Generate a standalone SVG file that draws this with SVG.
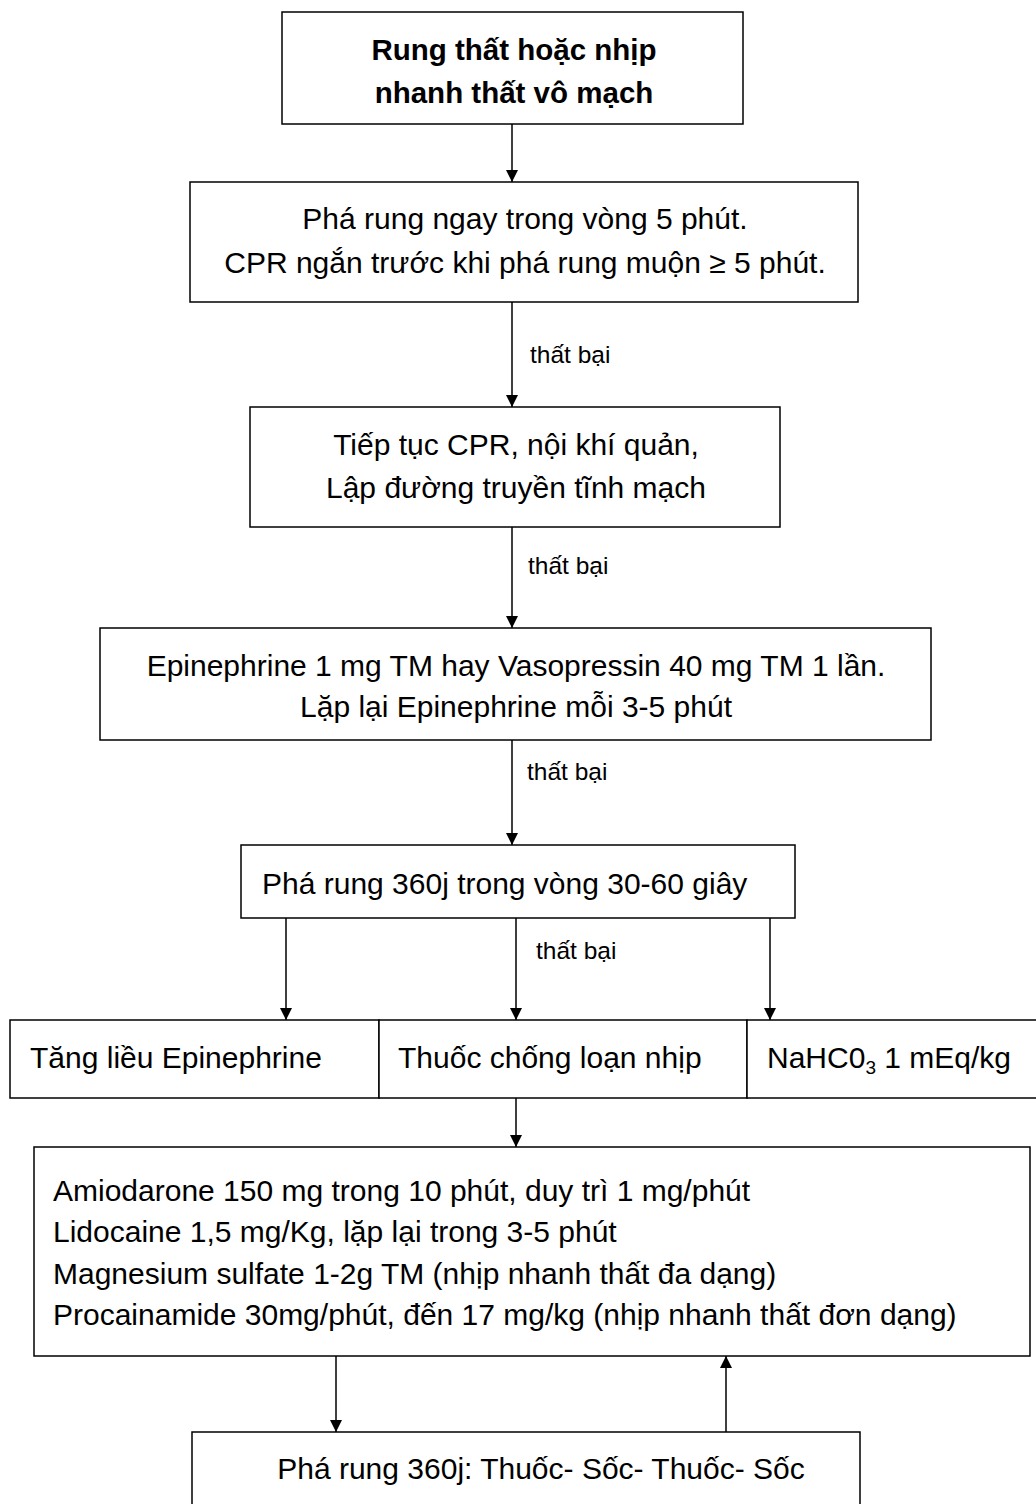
<svg xmlns="http://www.w3.org/2000/svg" width="1036" height="1504" viewBox="0 0 1036 1504">
<defs>
<marker id="ah" viewBox="0 0 10 10" refX="10" refY="5" markerWidth="12" markerHeight="14" markerUnits="userSpaceOnUse" orient="auto">
<path d="M0,0 L10,5 L0,10 z" fill="#000"/>
</marker>
<style>
rect{fill:#fff;stroke:#000;stroke-width:1.5}
text{font-family:"Liberation Sans",Arial,sans-serif;font-size:30px;fill:#000}
.b{font-weight:bold;font-size:29.5px}
.m{text-anchor:middle}
.l{font-size:24.5px}
.c line{stroke:#000;stroke-width:1.5;marker-end:url(#ah)}
</style>
</defs>
<rect width="1036" height="1504" style="fill:#fff;stroke:none"/>
<g id="n1"><rect x="282" y="12" width="461" height="112"/>
<text class="b m" x="514" y="60">Rung thất hoặc nhịp</text>
<text class="b m" x="514" y="103">nhanh thất vô mạch</text></g>
<g id="n2"><rect x="190" y="182" width="668" height="120"/>
<text class="m" x="525" y="229">Phá rung ngay trong vòng 5 phút.</text>
<text class="m" x="525" y="273">CPR ngắn trước khi phá rung muộn ≥ 5 phút.</text></g>
<g id="n3"><rect x="250" y="407" width="530" height="120"/>
<text class="m" x="516" y="455">Tiếp tục CPR, nội khí quản,</text>
<text class="m" x="516" y="498">Lập đường truyền tĩnh mạch</text></g>
<g id="n4"><rect x="100" y="628" width="831" height="112"/>
<text class="m" x="516" y="676">Epinephrine 1 mg TM hay Vasopressin 40 mg TM 1 lần.</text>
<text class="m" x="516" y="717">Lặp lại Epinephrine mỗi 3-5 phút</text></g>
<g id="n5"><rect x="241" y="845" width="554" height="73"/>
<text x="262" y="894">Phá rung 360j trong vòng 30-60 giây</text></g>
<g id="n6"><rect x="10" y="1020" width="369" height="78"/>
<text x="30" y="1068">Tăng liều Epinephrine</text></g>
<g id="n7"><rect x="379" y="1020" width="368" height="78"/>
<text x="398" y="1068">Thuốc chống loạn nhịp</text></g>
<g id="n8"><rect x="747" y="1020" width="295" height="78"/>
<text x="767" y="1068">NaHC0<tspan font-size="19" dy="6">3</tspan><tspan dy="-6"> 1 mEq/kg</tspan></text></g>
<g id="n9"><rect x="34" y="1147" width="996" height="209"/>
<text x="53" y="1201">Amiodarone 150 mg trong 10 phút, duy trì 1 mg/phút</text>
<text x="53" y="1242">Lidocaine 1,5 mg/Kg, lặp lại trong 3-5 phút</text>
<text x="53" y="1284">Magnesium sulfate 1-2g TM (nhịp nhanh thất đa dạng)</text>
<text x="53" y="1325">Procainamide 30mg/phút, đến 17 mg/kg (nhịp nhanh thất đơn dạng)</text></g>
<g id="n10"><rect x="192" y="1432" width="668" height="90"/>
<text class="m" x="541" y="1479">Phá rung 360j: Thuốc- Sốc- Thuốc- Sốc</text></g>
<g id="connectors" class="c">
<line x1="512" y1="124" x2="512" y2="182"/>
<line x1="512" y1="302" x2="512" y2="407"/>
<line x1="512" y1="527" x2="512" y2="628"/>
<line x1="512" y1="740" x2="512" y2="845"/>
<line x1="286" y1="918" x2="286" y2="1020"/>
<line x1="516" y1="918" x2="516" y2="1020"/>
<line x1="770" y1="918" x2="770" y2="1020"/>
<line x1="516" y1="1098" x2="516" y2="1147"/>
<line x1="336" y1="1356" x2="336" y2="1432"/>
<line x1="726" y1="1432" x2="726" y2="1356"/>
</g>
<g id="labels">
<text class="l" x="530" y="363">thất bại</text>
<text class="l" x="528" y="574">thất bại</text>
<text class="l" x="527" y="780">thất bại</text>
<text class="l" x="536" y="959">thất bại</text>
</g>
</svg>
